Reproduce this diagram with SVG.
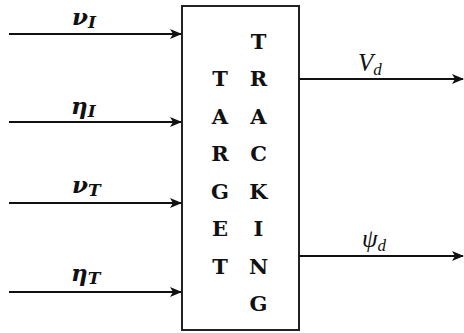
<svg xmlns="http://www.w3.org/2000/svg" width="464" height="333" viewBox="0 0 464 333">
  <style>
    .wire { stroke: #111; stroke-width: 2; fill: none; }
    .box { stroke: #222; stroke-width: 2; fill: #fff; }
    .glyph { font-family: "DejaVu Serif", "Liberation Serif", serif; font-weight: bold; font-size: 21px; fill: #111; text-anchor: middle; }
    .sym { font-family: "Liberation Serif", "DejaVu Serif", serif; font-style: italic; font-size: 25px; fill: #111; }
    .sym.b { font-family: "DejaVu Serif", "Liberation Serif", serif; font-weight: bold; font-size: 23px; }
    .sub { font-size: 17px; }
  </style>
  <defs>
    <marker id="arrow" viewBox="0 0 12 10" refX="11" refY="5" markerWidth="12" markerHeight="10" markerUnits="userSpaceOnUse" orient="auto">
      <path d="M0,0 L12,5 L0,10 L3,5 Z" fill="#111"/>
    </marker>
  </defs>

  <!-- central block -->
  <g id="target-tracking">
    <rect class="box" x="182" y="6" width="117" height="324"/>
    <text class="glyph" x="220" y="86">T</text>
    <text class="glyph" x="220" y="123.5">A</text>
    <text class="glyph" x="220" y="161">R</text>
    <text class="glyph" x="220" y="198.5">G</text>
    <text class="glyph" x="220" y="236">E</text>
    <text class="glyph" x="220" y="273.5">T</text>
    <text class="glyph" x="258.5" y="48.5">T</text>
    <text class="glyph" x="258.5" y="86">R</text>
    <text class="glyph" x="258.5" y="123.5">A</text>
    <text class="glyph" x="258.5" y="161">C</text>
    <text class="glyph" x="258.5" y="198.5">K</text>
    <text class="glyph" x="258.5" y="236">I</text>
    <text class="glyph" x="258.5" y="273.5">N</text>
    <text class="glyph" x="258.5" y="311">G</text>
  </g>

  <!-- signal lines -->
  <g id="connectors">
    <line class="wire" x1="9" y1="34" x2="181" y2="34" marker-end="url(#arrow)"/>
    <line class="wire" x1="9" y1="122" x2="181" y2="122" marker-end="url(#arrow)"/>
    <line class="wire" x1="9" y1="203" x2="181" y2="203" marker-end="url(#arrow)"/>
    <line class="wire" x1="9" y1="292" x2="181" y2="292" marker-end="url(#arrow)"/>
    <line class="wire" x1="299" y1="79" x2="463" y2="79" marker-end="url(#arrow)"/>
    <line class="wire" x1="299" y1="256" x2="463" y2="256" marker-end="url(#arrow)"/>
  </g>

  <!-- signal labels -->
  <g id="labels">
    <text class="sym b" x="72" y="25">ν<tspan class="sub" dy="3">I</tspan></text>
    <text class="sym b" x="71" y="114">η<tspan class="sub" dy="3">I</tspan></text>
    <text class="sym b" x="72" y="193">ν<tspan class="sub" dy="3">T</tspan></text>
    <text class="sym b" x="71" y="281">η<tspan class="sub" dy="3">T</tspan></text>
    <text class="sym" x="358" y="71">V<tspan class="sub" dy="4">d</tspan></text>
    <text class="sym" x="362" y="247">ψ<tspan class="sub" dy="4">d</tspan></text>
  </g>
</svg>
